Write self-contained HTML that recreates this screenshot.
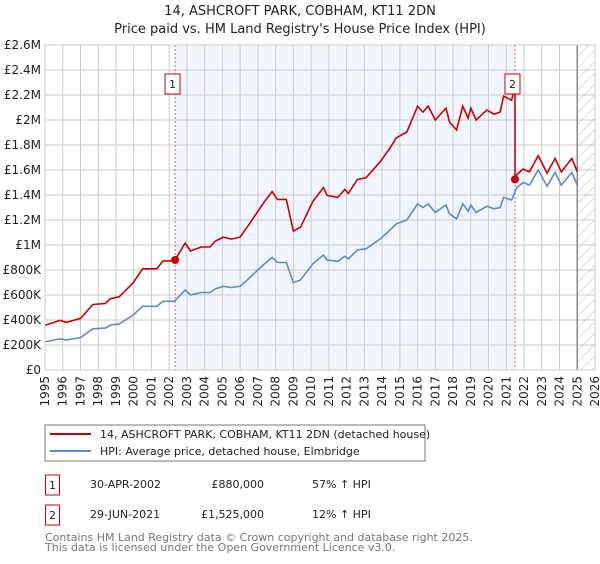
<!DOCTYPE html>
<html><head><meta charset="utf-8"><style>
body{margin:0;background:#fff;font-family:"DejaVu Sans","Liberation Sans",sans-serif;}
</style></head><body>
<svg id="c" width="600" height="560" xmlns="http://www.w3.org/2000/svg" font-family="DejaVu Sans, Liberation Sans, sans-serif">
<defs><pattern id="hatch" width="8" height="8" patternUnits="userSpaceOnUse" patternTransform="rotate(45)"><line x1="0" y1="0" x2="0" y2="8" stroke="#bbb" stroke-width="1"/></pattern></defs>
<text x="300" y="15" text-anchor="middle" font-size="13" fill="#222">14, ASHCROFT PARK, COBHAM, KT11 2DN</text>
<text x="300" y="33" text-anchor="middle" font-size="13" fill="#222">Price paid vs. HM Land Registry's House Price Index (HPI)</text>
<g id="plot"></g>
<rect x="45" y="425" width="380" height="36" fill="#fff" stroke="#777"/>
<line x1="50" y1="434" x2="91" y2="434" stroke="#cc0000" stroke-width="2"/>
<text x="100" y="438" font-size="11" fill="#222">14, ASHCROFT PARK, COBHAM, KT11 2DN (detached house)</text>
<line x1="50" y1="451" x2="91" y2="451" stroke="#5b8bd0" stroke-width="2"/>
<text x="100" y="455" font-size="11" fill="#222">HPI: Average price, detached house, Elmbridge</text>
<g font-size="11" fill="#222">
<rect x="45.5" y="475" width="14" height="20" fill="none" stroke="#cc0000"/>
<text x="52.5" y="489" text-anchor="middle">1</text>
<text x="90" y="488">30-APR-2002</text>
<text x="264" y="488" text-anchor="end">£880,000</text>
<text x="312" y="488">57% ↑ HPI</text>
<rect x="45.5" y="505" width="14" height="20" fill="none" stroke="#cc0000"/>
<text x="52.5" y="519" text-anchor="middle">2</text>
<text x="90" y="518">29-JUN-2021</text>
<text x="264" y="518" text-anchor="end">£1,525,000</text>
<text x="312" y="518">12% ↑ HPI</text>
</g>
<text x="45" y="541" font-size="11" fill="#777">Contains HM Land Registry data © Crown copyright and database right 2025.</text>
<text x="45" y="551" font-size="11" fill="#777">This data is licensed under the Open Government Licence v3.0.</text>
</svg>
<script>
const hpiYears=[1995.0,1995.85,1996.2,1997.0,1997.7,1998.4,1998.7,1999.2,1999.97,2000.5,2001.3,2001.65,2002.3,2002.9,2003.2,2003.8,2004.3,2004.6,2005.05,2005.5,2006.0,2006.55,2007.3,2007.8,2008.1,2008.6,2009.0,2009.4,2010.1,2010.7,2010.9,2011.5,2011.9,2012.1,2012.6,2013.1,2013.9,2014.45,2014.8,2015.4,2016.0,2016.3,2016.6,2017.0,2017.6,2017.8,2018.2,2018.55,2018.85,2019.0,2019.3,2019.9,2020.3,2020.65,2020.85,2021.3,2021.6,2021.95,2022.3,2022.8,2023.3,2023.75,2024.1,2024.7,2025.0];
const hpiValues=[0.225,0.25,0.24,0.26,0.33,0.335,0.36,0.37,0.44,0.51,0.51,0.55,0.55,0.64,0.60,0.62,0.62,0.65,0.67,0.66,0.67,0.74,0.84,0.90,0.86,0.86,0.70,0.72,0.85,0.92,0.88,0.87,0.91,0.89,0.96,0.97,1.05,1.12,1.17,1.20,1.33,1.30,1.33,1.26,1.32,1.25,1.21,1.33,1.27,1.32,1.26,1.31,1.29,1.30,1.38,1.36,1.46,1.50,1.48,1.60,1.47,1.58,1.48,1.58,1.48];
const saleYears=[2002.33,2021.49];
const salePrices=[0.88,1.525];
const saleLabels=["1","2"];
const yTicks=[0,0.2,0.4,0.6,0.8,1.0,1.2,1.4,1.6,1.8,2.0,2.2,2.4,2.6];
const yTickLabels=["£0","£200K","£400K","£600K","£800K","£1M","£1.2M","£1.4M","£1.6M","£1.8M","£2M","£2.2M","£2.4M","£2.6M"];
const xTicks=[1995,1996,1997,1998,1999,2000,2001,2002,2003,2004,2005,2006,2007,2008,2009,2010,2011,2012,2013,2014,2015,2016,2017,2018,2019,2020,2021,2022,2023,2024,2025,2026];

const L=45,R=595,T=45,B=370,x0=1995,x1=2026,yMax=2.6;
const X=t=>L+(t-x0)/(x1-x0)*(R-L);
const Y=v=>B-v/yMax*(B-T);
const NS="http://www.w3.org/2000/svg";
const g=document.getElementById('plot');
function mk(tag,attrs,parent){const e=document.createElementNS(NS,tag);for(const k in attrs)e.setAttribute(k,attrs[k]);(parent||g).appendChild(e);return e;}
function hpiAt(t){for(let i=0;i<hpiYears.length-1;i++){if(t>=hpiYears[i]&&t<=hpiYears[i+1]){const f=(t-hpiYears[i])/(hpiYears[i+1]-hpiYears[i]);return hpiValues[i]+f*(hpiValues[i+1]-hpiValues[i]);}}return hpiValues[hpiValues.length-1];}

let e=mk('rect',{x:X(saleYears[0]),y:T,width:X(saleYears[1])-X(saleYears[0]),height:B-T,fill:'#f1f5fd'});


for(const t of xTicks){const l=mk('line',{x1:X(t),x2:X(t),y1:T,y2:B,stroke:'#ccc','stroke-width':1});

}
yTicks.forEach((v,i)=>{const l=mk('line',{x1:L,x2:R,y1:Y(v),y2:Y(v),stroke:'#ccc','stroke-width':1});


const tx=mk('text',{x:L-4,y:Y(v)+4,'text-anchor':'end','font-size':12,fill:'#222'});tx.textContent=yTickLabels[i];

});
e=mk('rect',{x:X(2025),y:T,width:R-X(2025),height:B-T,fill:'url(#hatch)'});


e=mk('line',{x1:X(2025),x2:X(2025),y1:T,y2:B,stroke:'#888','stroke-width':1.5});


xTicks.forEach(t=>{const tx=mk('text',{transform:`translate(${X(t)+4},${B+6}) rotate(-90)`,'text-anchor':'end','font-size':12,fill:'#222'});tx.textContent=t;

});
saleYears.forEach((t,i)=>{const l=mk('line',{x1:X(t),x2:X(t),y1:T,y2:B,stroke:'#e06060','stroke-dasharray':'2,2','stroke-width':1});

});
let d=hpiYears.map((t,i)=>(i?'L':'M')+X(t).toFixed(1)+','+Y(hpiValues[i]).toFixed(1)).join('');
e=mk('path',{d:d,fill:'none',stroke:'#5b8bd0','stroke-width':1.6});


const f1=salePrices[0]/hpiAt(saleYears[0]),f2=salePrices[1]/hpiAt(saleYears[1]);
let pts=[];
hpiYears.forEach((t,i)=>{if(t<saleYears[1])pts.push([t,hpiValues[i]*f1]);});
pts.push([saleYears[1],hpiAt(saleYears[1])*f1]);
pts.push([saleYears[1],salePrices[1]]);
hpiYears.forEach((t,i)=>{if(t>saleYears[1])pts.push([t,hpiValues[i]*f2]);});
d=pts.map((p,i)=>(i?'L':'M')+X(p[0]).toFixed(1)+','+Y(p[1]).toFixed(1)).join('');
e=mk('path',{d:d,fill:'none',stroke:'#cc0000','stroke-width':1.6});


saleYears.forEach((t,i)=>{const c=mk('circle',{cx:X(t),cy:Y(salePrices[i]),r:4,fill:'#cc0000'});


const bx=X(t)-10;const r=mk('rect',{x:bx,y:74,width:15,height:20,fill:'#fff',stroke:'#cc0000'});


const tx=mk('text',{x:bx+7.5,y:88,'text-anchor':'middle','font-size':11,fill:'#222'});tx.textContent=saleLabels[i];

});
e=mk('rect',{x:L,y:T,width:R-L,height:B-T,fill:'none',stroke:'#ccc'});


</script>
</body></html>
